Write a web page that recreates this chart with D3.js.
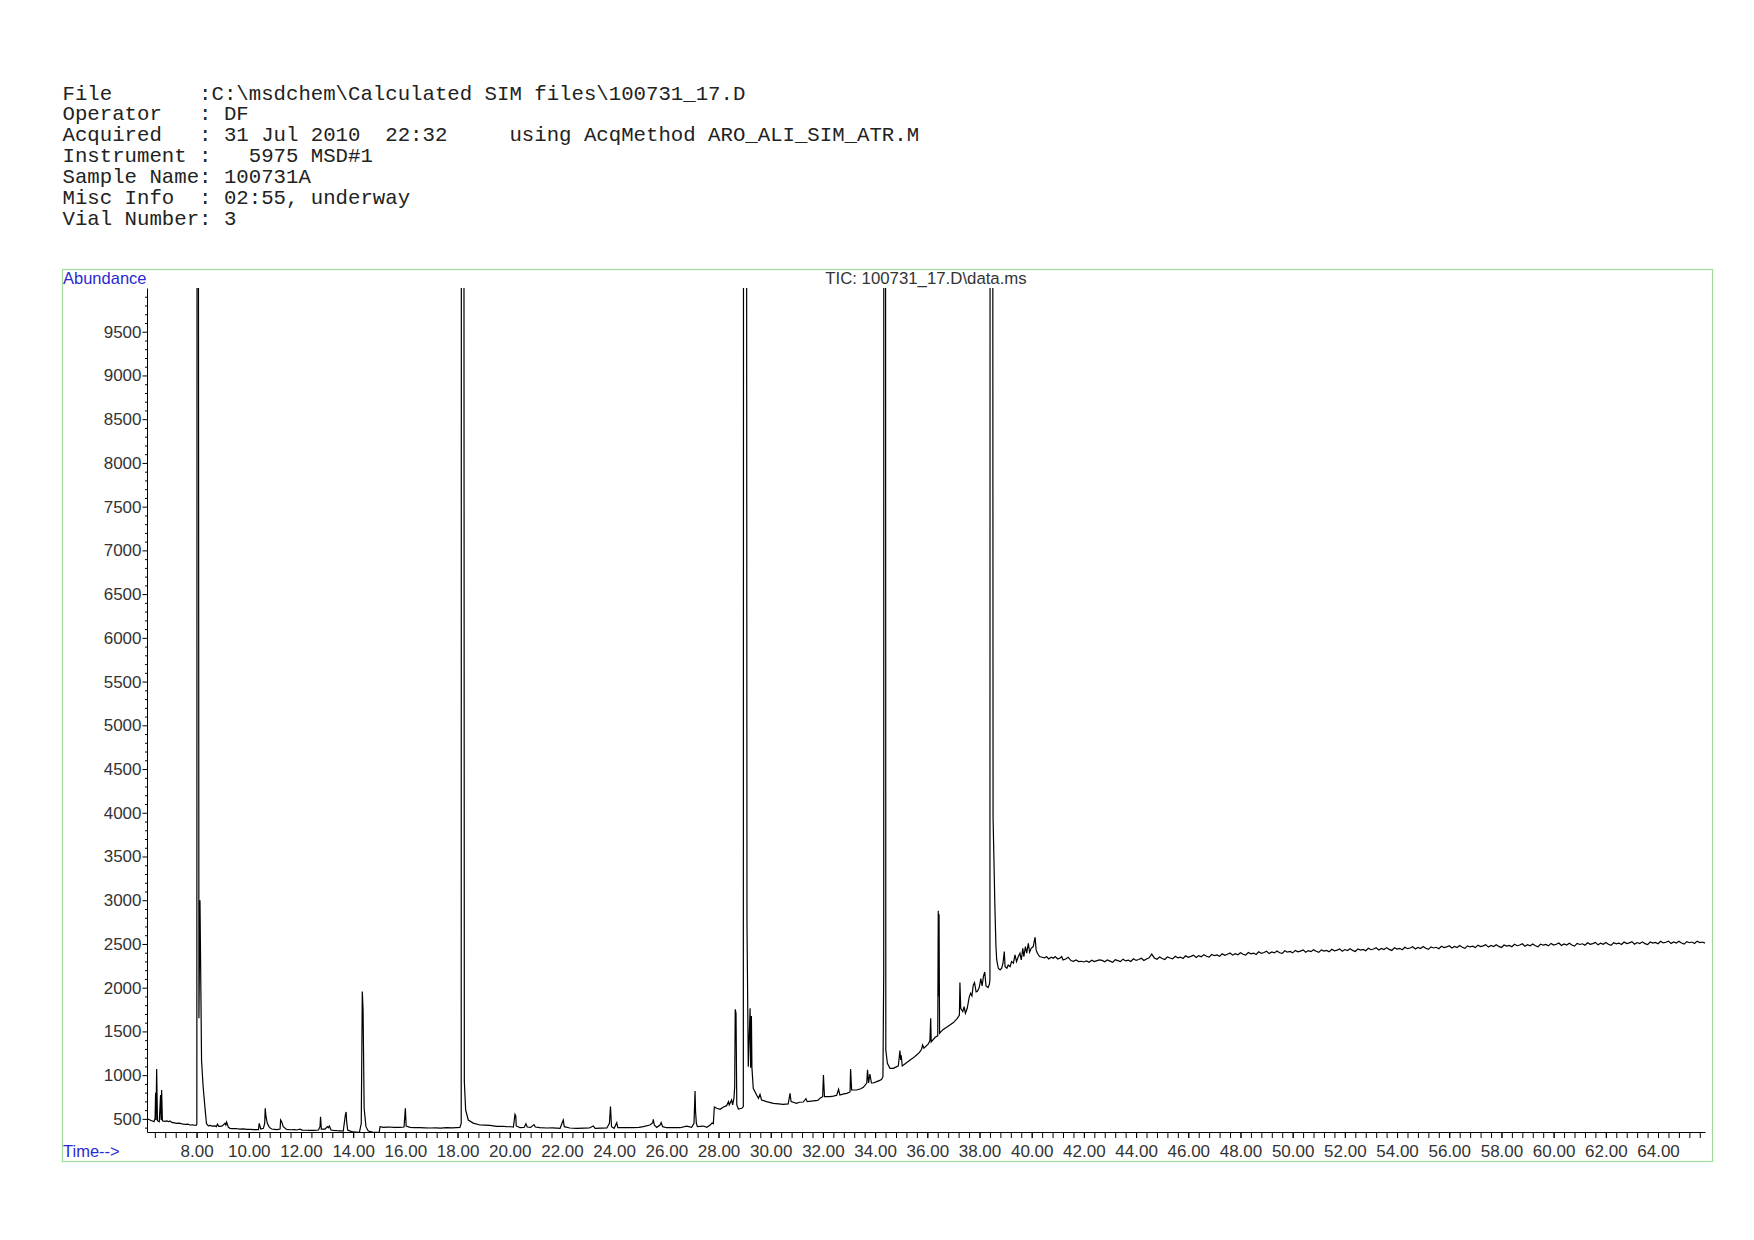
<html>
<head>
<meta charset="utf-8">
<title>TIC: 100731_17.D\data.ms</title>
<script src="https://d3js.org/d3.v7.min.js"></script>
<style>
    body { margin: 0; background: #fff; }
</style>
</head>
<body>
<svg id="chromatogram" width="1754" height="1240"></svg>

<script>
    // header block of the ChemStation report
    const headerLines = [
        "File       :C:\\msdchem\\Calculated SIM files\\100731_17.D",
        "Operator   : DF",
        "Acquired   : 31 Jul 2010  22:32     using AcqMethod ARO_ALI_SIM_ATR.M",
        "Instrument :   5975 MSD#1",
        "Sample Name: 100731A",
        "Misc Info  : 02:55, underway",
        "Vial Number: 3"
    ];
    const plotTitle = "TIC: 100731_17.D\\data.ms";

    const yTickValues = [500, 1000, 1500, 2000, 2500, 3000, 3500, 4000, 4500, 5000,
                         5500, 6000, 6500, 7000, 7500, 8000, 8500, 9000, 9500];
    const xTickValues = [8, 10, 12, 14, 16, 18, 20, 22, 24, 26, 28, 30, 32, 34, 36,
                         38, 40, 42, 44, 46, 48, 50, 52, 54, 56, 58, 60, 62, 64];

    // [retention time (min), abundance]
    const scanEarly = [
        [6.10, 500], [6.15, 495], [6.28, 479], [6.37, 468], [6.41, 506], [6.43, 799], [6.445, 487],
        [6.47, 1070], [6.50, 479], [6.57, 468], [6.62, 773], [6.64, 487], [6.66, 830], [6.69, 479],
        [6.78, 472], [6.85, 476], [6.93, 468], [6.98, 476], [7.05, 460], [7.15, 455], [7.24, 449],
        [7.33, 452], [7.41, 445], [7.49, 441], [7.58, 438], [7.66, 440], [7.75, 430], [7.85, 432],
        [7.92, 427], [7.98, 426], [8.01, 440], [8.03, 30000], [8.09, 1650], [8.13, 3000], [8.16, 2100],
        [8.19, 1170], [8.25, 870], [8.33, 600], [8.38, 445], [8.45, 420], [8.51, 426], [8.60, 418],
        [8.71, 419], [8.76, 412], [8.80, 441], [8.85, 415], [8.90, 415], [8.98, 420], [9.09, 449],
        [9.12, 430], [9.15, 464], [9.22, 403], [9.28, 392], [9.38, 388], [9.50, 390], [9.66, 384],
        [9.80, 386], [9.92, 380], [10.05, 380], [10.20, 378], [10.37, 377], [10.40, 449], [10.46, 384],
        [10.56, 392], [10.61, 449], [10.63, 621], [10.66, 525], [10.71, 449], [10.79, 403], [10.88, 384],
        [10.98, 380], [11.07, 377], [11.20, 384], [11.22, 487], [11.26, 468], [11.32, 411], [11.45, 380],
        [11.60, 376], [11.75, 378], [11.83, 373], [11.96, 382], [12.05, 372], [12.20, 370], [12.35, 369],
        [12.50, 368], [12.67, 373], [12.73, 411], [12.75, 525], [12.78, 384], [12.92, 384], [13.02, 411],
        [13.05, 400], [13.09, 419], [13.15, 373], [13.26, 368], [13.37, 365], [13.50, 364], [13.62, 361],
        [13.70, 544], [13.73, 579], [13.75, 468], [13.79, 373], [13.94, 354], [14.10, 350], [14.24, 346],
        [14.31, 449], [14.35, 1955], [14.38, 1742], [14.42, 621], [14.49, 411], [14.58, 361], [14.75, 350],
        [14.96, 346], [15.00, 350], [15.03, 411], [15.16, 403], [15.30, 406], [15.41, 407], [15.55, 404],
        [15.67, 404], [15.80, 402], [15.95, 407], [16.00, 621], [16.03, 419], [16.18, 403], [16.35, 400],
        [16.56, 400], [16.75, 398], [16.94, 396], [17.15, 398], [17.35, 395], [17.58, 400], [17.80, 398],
        [17.95, 401], [18.09, 403], [18.14, 449]
    ];

    const scanMiddle = [
        [18.17, 60000], [18.26, 925], [18.31, 602], [18.41, 487], [18.60, 452], [18.86, 430], [19.05, 428],
        [19.24, 426], [19.50, 415], [19.70, 416], [19.88, 411], [20.05, 410], [20.14, 407], [20.20, 552],
        [20.23, 533], [20.25, 419], [20.39, 400], [20.55, 402], [20.62, 445], [20.67, 407], [20.80, 402],
        [20.93, 434], [20.98, 407], [21.15, 400], [21.41, 396], [21.65, 398], [21.93, 392], [22.05, 487],
        [22.09, 411], [22.30, 396], [22.56, 392], [22.85, 394], [23.05, 396], [23.20, 419], [23.27, 392],
        [23.50, 394], [23.72, 396], [23.82, 449], [23.86, 640], [23.90, 411], [24.00, 392], [24.10, 456],
        [24.14, 400], [24.35, 399], [24.61, 400], [24.74, 399], [24.95, 402], [25.12, 411], [25.37, 430],
        [25.48, 457], [25.50, 495], [25.54, 430], [25.63, 403], [25.76, 430], [25.80, 457], [25.86, 411],
        [26.01, 399], [26.25, 401], [26.52, 399], [26.78, 418], [26.97, 403], [27.06, 449], [27.10, 819],
        [27.12, 584], [27.15, 449], [27.19, 411], [27.42, 418], [27.55, 403], [27.67, 426], [27.75, 453],
        [27.80, 445], [27.84, 636], [27.93, 621], [28.06, 610], [28.19, 636], [28.31, 651], [28.38, 697],
        [28.41, 659], [28.50, 716], [28.54, 659], [28.59, 735], [28.62, 868], [28.64, 1753], [28.67, 1707],
        [28.70, 659], [28.76, 613], [28.89, 621], [28.95, 640], [28.99, 60000], [29.09, 2755], [29.14, 1097],
        [29.21, 1765], [29.23, 1086], [29.26, 1677], [29.28, 1086], [29.33, 850], [29.46, 773], [29.53, 735],
        [29.59, 780], [29.65, 716]
    ];

    const scanLate = [
        [29.84, 697], [30.10, 678], [30.30, 672], [30.48, 667], [30.67, 671], [30.74, 792], [30.78, 697],
        [30.99, 678], [31.10, 690], [31.25, 693], [31.35, 731], [31.40, 697], [31.63, 705], [31.80, 712],
        [31.89, 735], [31.99, 754], [32.02, 1002], [32.06, 754], [32.27, 754], [32.40, 760], [32.53, 770],
        [32.60, 838], [32.65, 773], [32.80, 785], [32.91, 792], [33.04, 808], [33.06, 1071], [33.10, 830],
        [33.29, 830], [33.45, 845], [33.55, 861], [33.68, 910], [33.71, 1060], [33.75, 910], [33.80, 1013],
        [33.86, 910], [33.93, 910], [34.06, 926], [34.18, 940], [34.25, 952], [34.30, 983], [34.33, 2184],
        [34.35, 60000], [34.41, 1288], [34.47, 1135], [34.57, 1078], [34.70, 1078], [34.83, 1097],
        [34.89, 1105], [34.95, 1280], [34.98, 1173], [35.00, 1227], [35.04, 1105], [35.14, 1128],
        [35.34, 1173], [35.45, 1195], [35.59, 1230], [35.70, 1260], [35.78, 1296], [35.82, 1345],
        [35.87, 1307], [36.04, 1357], [36.10, 1395], [36.13, 1650], [36.15, 1380], [36.30, 1433],
        [36.40, 1450], [36.42, 2880], [36.44, 1900], [36.45, 2840], [36.47, 1480], [36.60, 1520],
        [36.74, 1548], [36.88, 1575], [37.00, 1601], [37.15, 1650], [37.23, 1688], [37.25, 2058],
        [37.28, 1765], [37.36, 1727], [37.41, 1783], [37.46, 1707], [37.53, 1765], [37.61, 1898],
        [37.66, 1937], [37.71, 1906], [37.76, 2028], [37.81, 2058], [37.87, 1952], [37.92, 1960],
        [37.99, 2002], [38.05, 2104], [38.10, 2020], [38.15, 2127], [38.20, 2180], [38.25, 2020],
        [38.33, 2002], [38.38, 2040], [38.40, 2098], [38.43, 60000], [38.52, 3950], [38.59, 2927],
        [38.63, 2470], [38.66, 2317], [38.72, 2222], [38.79, 2203], [38.85, 2222], [38.90, 2280],
        [38.95, 2412], [38.98, 2240], [39.05, 2222], [39.10, 2260], [39.17, 2240], [39.23, 2298],
        [39.30, 2280], [39.36, 2375], [39.42, 2298], [39.48, 2350], [39.55, 2394], [39.60, 2317],
        [39.66, 2450], [39.70, 2356], [39.76, 2470], [39.81, 2394], [39.87, 2508], [39.92, 2405],
        [39.98, 2450], [40.06, 2470], [40.13, 2577], [40.17, 2432], [40.22, 2394], [40.30, 2356],
        [40.40, 2348], [40.50, 2340], [40.57, 2356], [40.65, 2328], [40.75, 2348], [40.83, 2336],
        [40.90, 2356], [41.00, 2328], [41.09, 2340], [41.15, 2356], [41.20, 2317], [41.30, 2328],
        [41.40, 2348], [41.50, 2310], [41.60, 2302], [41.70, 2317], [41.80, 2298], [41.90, 2302],
        [42.00, 2294], [42.10, 2306], [42.20, 2290], [42.30, 2313], [42.40, 2298], [42.50, 2310],
        [42.60, 2317]
    ];

    const scanTail = [
        [42.7, 2312], [42.8, 2296], [42.9, 2318], [43.0, 2304], [43.1, 2290], [43.2, 2320], [43.3, 2310], [43.4, 2298],
        [43.5, 2326], [43.6, 2306], [43.7, 2314], [43.8, 2300], [43.9, 2330], [44.0, 2312], [44.1, 2322], [44.2, 2336],
        [44.3, 2310], [44.4, 2328], [44.5, 2342], [44.6, 2384], [44.7, 2340], [44.8, 2326], [44.9, 2350], [45.0, 2334],
        [45.1, 2322], [45.2, 2352], [45.3, 2340], [45.4, 2330], [45.5, 2360], [45.6, 2342], [45.7, 2350], [45.8, 2334],
        [45.9, 2364], [46.0, 2348], [46.1, 2358], [46.2, 2372], [46.3, 2346], [46.4, 2366], [46.5, 2354], [46.6, 2378],
        [46.7, 2360], [46.8, 2350], [46.9, 2380], [47.0, 2366], [47.1, 2374], [47.2, 2358], [47.3, 2388], [47.4, 2370],
        [47.5, 2382], [47.6, 2396], [47.7, 2372], [47.8, 2388], [47.9, 2376], [48.0, 2400], [48.1, 2382], [48.2, 2372],
        [48.3, 2402], [48.4, 2388], [48.5, 2396], [48.6, 2380], [48.7, 2410], [48.8, 2392], [48.9, 2402], [49.0, 2416],
        [49.1, 2390], [49.2, 2408], [49.3, 2398], [49.4, 2420], [49.5, 2400], [49.6, 2392], [49.7, 2422], [49.8, 2406],
        [49.9, 2414], [50.0, 2398], [50.1, 2426], [50.2, 2410], [50.3, 2418], [50.4, 2432], [50.5, 2406], [50.6, 2424],
        [50.7, 2412], [50.8, 2434], [50.9, 2416], [51.0, 2404], [51.1, 2432], [51.2, 2418], [51.3, 2426], [51.4, 2410],
        [51.5, 2440], [51.6, 2422], [51.7, 2430], [51.8, 2444], [51.9, 2416], [52.0, 2436], [52.1, 2424], [52.2, 2446],
        [52.3, 2426], [52.4, 2414], [52.5, 2444], [52.6, 2430], [52.7, 2438], [52.8, 2422], [52.9, 2450], [53.0, 2434],
        [53.1, 2442], [53.2, 2456], [53.3, 2430], [53.4, 2448], [53.5, 2436], [53.6, 2458], [53.7, 2438], [53.8, 2426],
        [53.9, 2456], [54.0, 2442], [54.1, 2450], [54.2, 2434], [54.3, 2462], [54.4, 2446], [54.5, 2454], [54.6, 2468],
        [54.7, 2442], [54.8, 2460], [54.9, 2448], [55.0, 2470], [55.1, 2450], [55.2, 2438], [55.3, 2466], [55.4, 2454],
        [55.5, 2462], [55.6, 2446], [55.7, 2474], [55.8, 2458], [55.9, 2466], [56.0, 2480], [56.1, 2454], [56.2, 2472],
        [56.3, 2460], [56.4, 2482], [56.5, 2462], [56.6, 2450], [56.7, 2478], [56.8, 2466], [56.9, 2474], [57.0, 2458],
        [57.1, 2486], [57.2, 2470], [57.3, 2478], [57.4, 2492], [57.5, 2464], [57.6, 2482], [57.7, 2470], [57.8, 2492],
        [57.9, 2472], [58.0, 2460], [58.1, 2488], [58.2, 2476], [58.3, 2484], [58.4, 2468], [58.5, 2496], [58.6, 2480],
        [58.7, 2488], [58.8, 2502], [58.9, 2474], [59.0, 2492], [59.1, 2480], [59.2, 2500], [59.3, 2480], [59.4, 2468],
        [59.5, 2498], [59.6, 2486], [59.7, 2494], [59.8, 2478], [59.9, 2506], [60.0, 2488], [60.1, 2496], [60.2, 2510],
        [60.3, 2482], [60.4, 2500], [60.5, 2488], [60.6, 2508], [60.7, 2488], [60.8, 2476], [60.9, 2506], [61.0, 2494],
        [61.1, 2502], [61.2, 2486], [61.3, 2514], [61.4, 2496], [61.5, 2504], [61.6, 2518], [61.7, 2490], [61.8, 2508],
        [61.9, 2496], [62.0, 2516], [62.1, 2496], [62.2, 2484], [62.3, 2514], [62.4, 2502], [62.5, 2510], [62.6, 2494],
        [62.7, 2522], [62.8, 2504], [62.9, 2512], [63.0, 2526], [63.1, 2498], [63.2, 2516], [63.3, 2504], [63.4, 2524],
        [63.5, 2504], [63.6, 2492], [63.7, 2522], [63.8, 2510], [63.9, 2518], [64.0, 2502], [64.1, 2530], [64.2, 2512],
        [64.3, 2520], [64.4, 2532], [64.5, 2506], [64.6, 2522], [64.7, 2510], [64.8, 2530], [64.9, 2510], [65.0, 2498],
        [65.1, 2526], [65.2, 2514], [65.3, 2522], [65.4, 2506], [65.5, 2532], [65.6, 2516], [65.7, 2522], [65.8, 2510]
    ];

    const svg = d3.select('svg#chromatogram');

    const frame = { left: 62, top: 269, right: 1712, bottom: 1161 };
    const plot = { left: 147, top: 288, right: 1705, bottom: 1132 };

    const sansFont = "Arial, 'Liberation Sans', sans-serif";
    const labelBlue = '#2a2ad4';

    // header text
    svg.append('g')
       .selectAll('text')
       .data(headerLines)
       .enter().append('text')
       .attr('x', 62.5)
       .attr('y', (d, i) => 99.5 + i * 20.9)
       .attr('xml:space', 'preserve')
       .style('white-space', 'pre')
       .style('font-family', "'Courier New', 'Liberation Mono', monospace")
       .style('font-size', '20.7px')
       .attr('fill', '#222')
       .text(d => d);

    // green frame
    svg.append('rect')
       .attr('x', frame.left + 0.5)
       .attr('y', frame.top + 0.5)
       .attr('width', frame.right - frame.left)
       .attr('height', frame.bottom - frame.top)
       .attr('fill', 'none')
       .attr('stroke', '#9cdc9c')
       .attr('stroke-width', 1.2);

    const xScale = d3.scaleLinear()
                     .domain([6.10, 65.80])
                     .range([plot.left, plot.right]);

    const yScale = d3.scaleLinear()
                     .domain([350, 10000])
                     .range([plot.bottom, plot.top]);

    // x axis: small ticks every 0.4 min, labels every 2 min
    const xMinor = d3.range(16, 165).map(k => k * 0.4);
    svg.append('g')
       .attr('transform', `translate(0, ${plot.bottom})`)
       .call(d3.axisBottom(xScale).tickValues(xMinor).tickSize(6).tickSizeOuter(0).tickFormat(''))
       .call(g => g.selectAll('line, path').attr('stroke', '#000'));

    svg.append('g')
       .attr('transform', `translate(0, ${plot.bottom})`)
       .call(d3.axisBottom(xScale).tickValues(xTickValues).tickSize(6).tickSizeOuter(0)
               .tickPadding(7).tickFormat(d3.format('.2f')))
       .call(g => g.select('.domain').remove())
       .call(g => g.selectAll('line').attr('stroke', '#000'))
       .selectAll('text')
       .style('font-family', sansFont)
       .style('font-size', '17px')
       .attr('fill', '#333');

    // y axis: minor ticks every 100, labels every 500
    const yMinor = d3.range(4, 100).map(k => k * 100).filter(v => v % 500 !== 0);
    svg.append('g')
       .attr('transform', `translate(${plot.left}, 0)`)
       .call(d3.axisLeft(yScale).tickValues(yMinor).tickSize(2).tickSizeOuter(0).tickFormat(''))
       .call(g => g.selectAll('line, path').attr('stroke', '#000'));

    svg.append('g')
       .attr('transform', `translate(${plot.left}, 0)`)
       .call(d3.axisLeft(yScale).tickValues(yTickValues).tickSize(4.5).tickSizeOuter(0)
               .tickPadding(1).tickFormat(d3.format('d')))
       .call(g => g.select('.domain').remove())
       .call(g => g.selectAll('line').attr('stroke', '#000'))
       .selectAll('text')
       .style('font-family', sansFont)
       .style('font-size', '17px')
       .attr('fill', '#333');

    // trace, clipped at the top of the abundance axis
    svg.append('clipPath')
       .attr('id', 'plotclip')
       .append('rect')
       .attr('x', plot.left)
       .attr('y', plot.top)
       .attr('width', plot.right - plot.left + 2)
       .attr('height', plot.bottom - plot.top);

    const trace = scanEarly.concat(scanMiddle, scanLate, scanTail);

    const line = d3.line()
                   .x(d => xScale(d[0]))
                   .y(d => yScale(d[1]));

    svg.append('path')
       .datum(trace)
       .attr('clip-path', 'url(#plotclip)')
       .attr('d', line)
       .attr('fill', 'none')
       .attr('stroke', '#000')
       .attr('stroke-width', 1.2);

    // labels
    svg.append('text')
       .attr('x', 63)
       .attr('y', 284)
       .style('font-family', sansFont)
       .style('font-size', '16.5px')
       .attr('fill', labelBlue)
       .text('Abundance');

    svg.append('text')
       .attr('x', 63)
       .attr('y', 1157)
       .style('font-family', sansFont)
       .style('font-size', '16.5px')
       .attr('fill', labelBlue)
       .text('Time-->');

    svg.append('text')
       .attr('x', (plot.left + plot.right) / 2)
       .attr('y', 283.5)
       .attr('text-anchor', 'middle')
       .style('font-family', sansFont)
       .style('font-size', '16.8px')
       .attr('fill', '#333')
       .text(plotTitle);
</script>
</body>
</html>
